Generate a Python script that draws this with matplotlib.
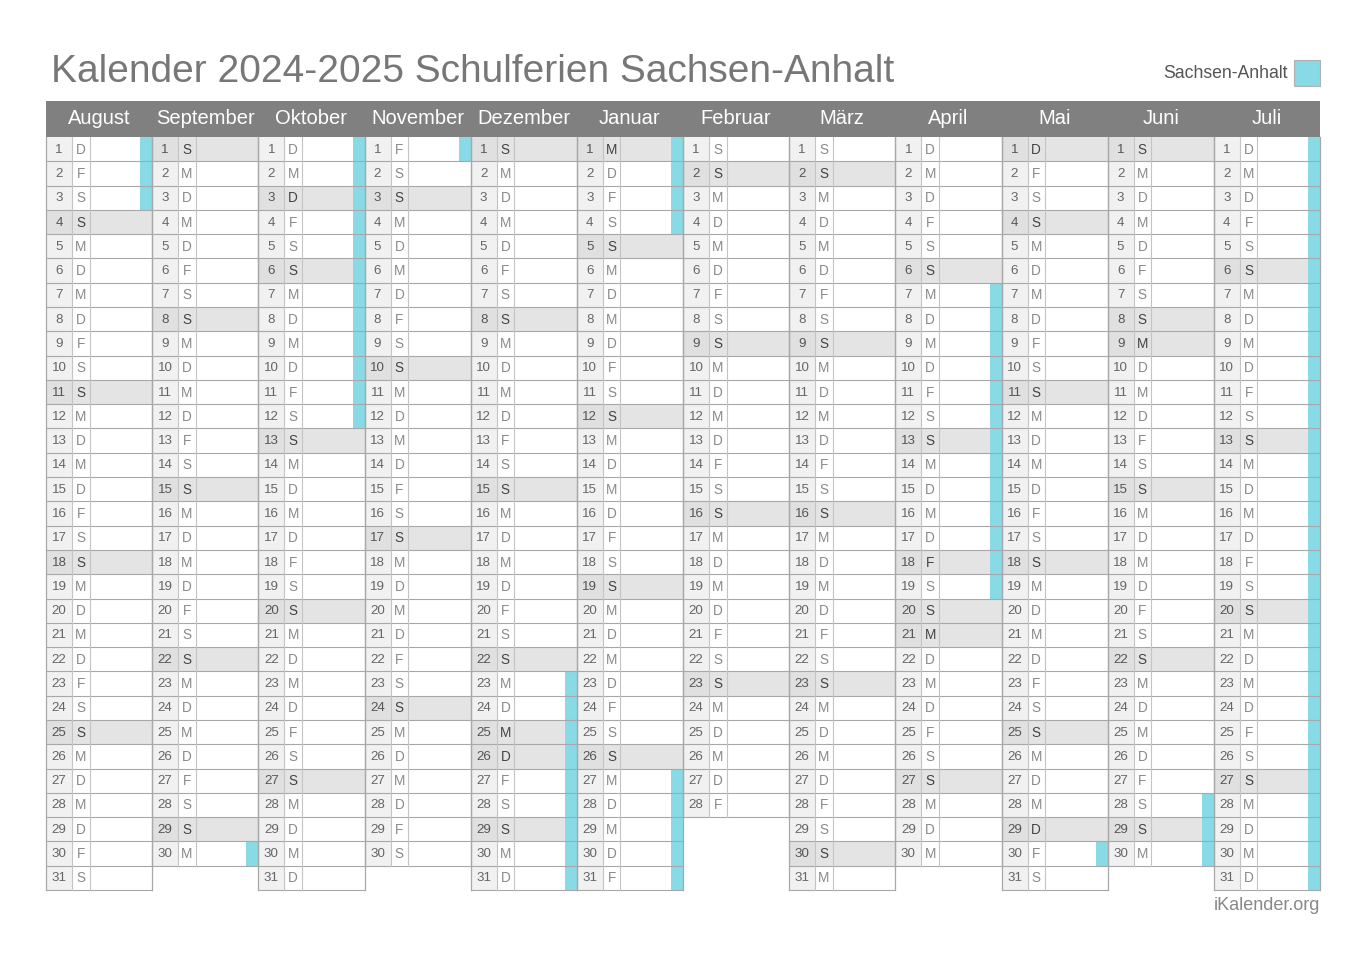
import datetime as dt
import matplotlib
matplotlib.use("Agg")
import matplotlib.pyplot as plt
from matplotlib.patches import Rectangle

plt.rcParams['font.family'] = ['Liberation Sans', 'DejaVu Sans']

# ---------------- data ----------------
title = "Kalender 2024-2025 Schulferien Sachsen-Anhalt"
legend_label = "Sachsen-Anhalt"
footer = "iKalender.org"
months = ["August", "September", "Oktober", "November", "Dezember", "Januar",
          "Februar", "März", "April", "Mai", "Juni", "Juli"]
month_year = [(2024, 8), (2024, 9), (2024, 10), (2024, 11), (2024, 12), (2025, 1),
              (2025, 2), (2025, 3), (2025, 4), (2025, 5), (2025, 6), (2025, 7)]
weekday_letters = ["M", "D", "M", "D", "F", "S", "S"]
# public holidays shown shaded
holidays = ["2024-10-03", "2024-12-25", "2024-12-26", "2025-01-01", "2025-04-18",
            "2025-04-21", "2025-05-01", "2025-05-29", "2025-06-09"]
# school holidays Sachsen-Anhalt (start, end)
school_holidays = [("2024-06-24", "2024-08-03"), ("2024-09-30", "2024-10-12"),
                   ("2024-11-01", "2024-11-01"), ("2024-12-23", "2025-01-04"),
                   ("2025-01-27", "2025-01-31"), ("2025-04-07", "2025-04-19"),
                   ("2025-05-30", "2025-05-30"), ("2025-06-28", "2025-08-08")]

# ---------------- style ----------------
CYAN = "#88dae6"
HEAD = "#808080"
SHADE = "#e4e4e4"
NUMBG = "#f1f1f1"
NUMBG_SH = "#e0e0e0"
LINE = "#a8a8a8"
LINE_L = "#c4c4c4"

x0, x1 = 46, 1320
colw = (x1 - x0) / 12
yh0, yh1 = 101, 137
yend = 890
rowh = (yend - yh1) / 31
numw = 26
letw = 17.5
barw = 12

hol = {dt.date.fromisoformat(h) for h in holidays}
ferien = [(dt.date.fromisoformat(a), dt.date.fromisoformat(b)) for a, b in school_holidays]


def in_ferien(d):
    return any(a <= d <= b for a, b in ferien)


def days_in_month(y, m):
    nxt = dt.date(y + (m // 12), m % 12 + 1, 1)
    return (nxt - dt.date(y, m, 1)).days


fig = plt.figure(figsize=(13.66, 9.65), dpi=100)
ax = fig.add_axes([0, 0, 1, 1])
ax.set_xlim(0, 1366)
ax.set_ylim(965, 0)
ax.axis("off")

# title
ax.text(51, 72, title, fontsize=28, color="#777777", ha="left", va="center")
# legend
ax.add_patch(Rectangle((1294, 60), 26, 26, facecolor=CYAN, edgecolor="#b0b0b0", lw=0.8))
ax.text(1288, 73, legend_label, fontsize=12.7, color="#555555", ha="right", va="center")
# footer
ax.text(1320, 906, footer, fontsize=13, color="#888888", ha="right", va="center")

# header
ax.add_patch(Rectangle((x0, yh0), x1 - x0, yh1 - yh0, facecolor=HEAD, edgecolor="none"))
for i, name in enumerate(months):
    ax.text(x0 + colw * (i + 0.5), (yh0 + yh1) / 2, name, fontsize=14.5,
            color="white", ha="center", va="center")

for i, (yr, mo) in enumerate(month_year):
    cx = x0 + colw * i
    n = days_in_month(yr, mo)
    for d in range(1, n + 1):
        date = dt.date(yr, mo, d)
        wd = date.weekday()
        shaded = wd == 6 or date in hol
        y = yh1 + (d - 1) * rowh
        ax.add_patch(Rectangle((cx, y), numw, rowh,
                               facecolor=NUMBG_SH if shaded else NUMBG, edgecolor="none"))
        ax.add_patch(Rectangle((cx + numw, y), colw - numw, rowh,
                               facecolor=SHADE if shaded else "white", edgecolor="none"))
        if in_ferien(date):
            ax.add_patch(Rectangle((cx + colw - barw, y), barw, rowh,
                                   facecolor=CYAN, edgecolor="none", zorder=2))
        ax.text(cx + numw / 2, y + rowh / 2 + 0.5, str(d), fontsize=9.6,
                color="#555555" if shaded else "#666666", ha="center", va="center", zorder=4)
        ax.text(cx + numw + letw / 2, y + rowh / 2 + 0.5, weekday_letters[wd],
                fontsize=9.8, color="#444444" if shaded else "#8a8a8a",
                ha="center", va="center", zorder=4)
        # horizontal divider
        ax.plot([cx, cx + colw], [y + rowh, y + rowh], color=LINE, lw=0.8, zorder=3)
    ybot = yh1 + n * rowh
    # vertical dividers
    ax.plot([cx + numw, cx + numw], [yh1, ybot], color=LINE_L, lw=0.8, zorder=3)
    ax.plot([cx + numw + letw, cx + numw + letw], [yh1, ybot], color=LINE_L, lw=0.8, zorder=3)
    ax.plot([cx, cx], [yh1, ybot], color=LINE, lw=0.9, zorder=3)
    ax.plot([cx + colw, cx + colw], [yh1, ybot], color=LINE, lw=0.9, zorder=3)

fig.savefig("out.png", dpi=100, facecolor="white")
